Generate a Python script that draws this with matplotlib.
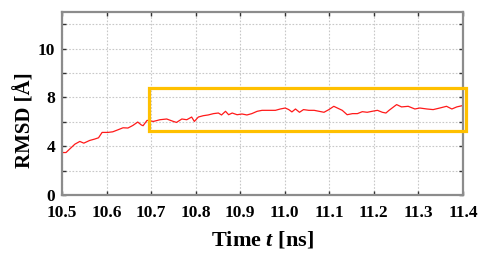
import matplotlib
matplotlib.use("Agg")
import matplotlib.pyplot as plt
from matplotlib.patches import Rectangle

# Data
time_ns = [10.500, 10.509, 10.517, 10.529, 10.540, 10.549, 10.562, 10.573, 10.582, 10.590,
           10.603, 10.614, 10.626, 10.637, 10.648, 10.659, 10.670, 10.678, 10.682, 10.691,
           10.705, 10.720, 10.735, 10.750, 10.757, 10.769, 10.780, 10.791, 10.797, 10.806,
           10.817, 10.828, 10.840, 10.851, 10.858, 10.867, 10.874, 10.882, 10.893, 10.904,
           10.915, 10.926, 10.938, 10.949, 10.964, 10.979, 10.990, 11.001, 11.009, 11.016,
           11.024, 11.033, 11.042, 11.054, 11.066, 11.077, 11.088, 11.099, 11.110, 11.118,
           11.129, 11.140, 11.152, 11.163, 11.174, 11.185, 11.196, 11.208, 11.219, 11.227,
           11.234, 11.251, 11.262, 11.277, 11.292, 11.303, 11.319, 11.333, 11.348, 11.363,
           11.375, 11.386, 11.399]
rmsd = [3.48, 3.48, 3.76, 4.17, 4.39, 4.25, 4.47, 4.58, 4.69, 5.13,
        5.13, 5.18, 5.35, 5.51, 5.49, 5.70, 5.98, 5.74, 5.68, 6.12,
        6.03, 6.17, 6.23, 6.03, 5.95, 6.23, 6.17, 6.39, 6.03, 6.39,
        6.50, 6.56, 6.67, 6.72, 6.56, 6.86, 6.58, 6.72, 6.58, 6.64,
        6.56, 6.67, 6.86, 6.94, 6.94, 6.94, 7.05, 7.13, 7.00, 6.81,
        7.05, 6.78, 7.00, 6.94, 6.94, 6.86, 6.78, 7.00, 7.27, 7.13,
        6.94, 6.58, 6.67, 6.67, 6.83, 6.78, 6.86, 6.94, 6.78, 6.72,
        6.94, 7.41, 7.22, 7.27, 7.05, 7.13, 7.05, 7.00, 7.13, 7.27,
        7.05, 7.22, 7.33]

x_ticks = [10.5, 10.6, 10.7, 10.8, 10.9, 11.0, 11.1, 11.2, 11.3, 11.4]
x_tick_labels = ["10.5", "10.6", "10.7", "10.8", "10.9", "11.0", "11.1", "11.2", "11.3", "11.4"]
y_ticks = [0, 2, 4, 6, 8, 10, 12, 14]
y_tick_labels = ["0", "", "4", "", "8", "", "10", ""]

# highlight box: t range and RMSD range
box_t = [10.695, 11.407]
box_v = [5.21, 8.78]

plt.rcParams['font.family'] = ['Liberation Serif', 'DejaVu Serif']
plt.rcParams['font.weight'] = 'bold'
plt.rcParams['mathtext.fontset'] = 'custom'
plt.rcParams['mathtext.it'] = 'Liberation Serif:italic:bold'
plt.rcParams['mathtext.rm'] = 'Liberation Serif:bold'

fig = plt.figure(figsize=(4.91, 2.66), dpi=100)
ax = fig.add_axes([62/491, 1-195/266, (463-62)/491, (195-12)/266])

ax.plot(time_ns, rmsd, color='#ff1a1a', lw=0.9)
ax.set_xlim(10.5, 11.4)
ax.set_ylim(0, 15)
ax.set_xticks(x_ticks)
ax.set_xticklabels(x_tick_labels, fontsize=12.5, fontweight='bold')
ax.set_yticks(y_ticks)
ax.set_yticklabels(y_tick_labels, fontsize=12.5, fontweight='bold')
ax.tick_params(direction='in', length=3, width=1, color='#333333',
               top=True, right=True)
ax.tick_params(axis='x', pad=7)
ax.tick_params(axis='y', pad=5)
ax.grid(True, linestyle=(0, (1.5, 1.5)), color='#c8c8c8', lw=0.8)
for s in ax.spines.values():
    s.set_color('#8c8c8c')
    s.set_linewidth(1.6)

rect = Rectangle((box_t[0], box_v[0]), box_t[1]-box_t[0], box_v[1]-box_v[0],
                 fill=False, edgecolor='#FFC000', lw=2.3, clip_on=False, zorder=5)
ax.add_patch(rect)

fig.text(25/491, 1-120/266, 'RMSD [Å]', rotation=90, ha='center', va='center',
         fontsize=15, fontweight='bold')
fig.text(262/491, 1-240/266, 'Time $\\mathit{t}$ [ns]', ha='center', va='center',
         fontsize=16, fontweight='bold')

fig.savefig('out.png', dpi=100)
